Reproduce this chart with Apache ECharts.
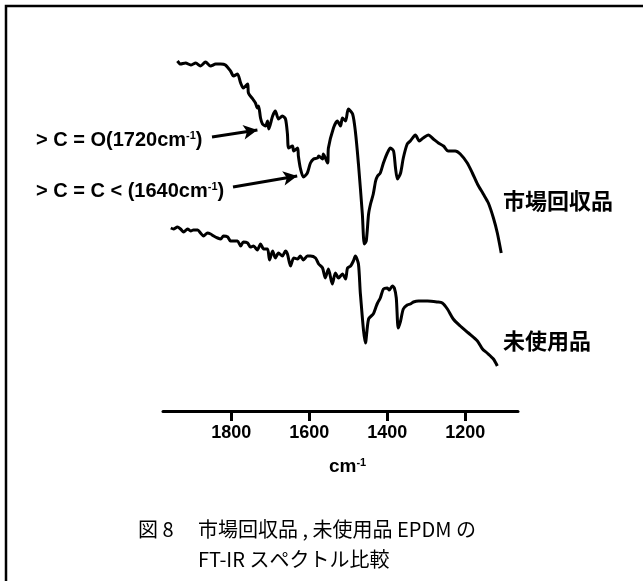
<!DOCTYPE html>
<html>
<head>
<meta charset="utf-8">
<script src="https://cdn.jsdelivr.net/npm/echarts@6/dist/echarts.min.js"></script>
<style>
  html, body { margin: 0; padding: 0; background: #fff; }
  #main { width: 643px; height: 581px; }
</style>
</head>
<body>
<div id="main"></div>
<script>
// wavenumber ticks (cm-1)
const tickValues = [1800, 1600, 1400, 1200];

// 市場回収品 spectrum (wavenumber, transmittance a.u.)
const recoveredWn = [1938, 1930, 1917, 1904, 1891, 1879, 1866, 1853, 1840, 1827, 1815, 1802, 1794, 1784, 1776, 1769, 1758, 1756, 1745, 1738, 1733, 1730, 1725, 1720, 1712, 1707, 1704, 1694, 1687, 1679, 1669, 1661, 1656, 1653, 1643, 1640, 1630, 1628, 1623, 1615, 1605, 1597, 1589, 1579, 1576, 1566, 1564, 1553, 1551, 1538, 1528, 1520, 1515, 1507, 1500, 1489, 1482, 1474, 1464, 1459, 1454, 1448, 1443, 1436, 1430, 1425, 1418, 1410, 1400, 1392, 1384, 1379, 1374, 1366, 1359, 1349, 1341, 1328, 1318, 1308, 1295, 1282, 1269, 1256, 1244, 1226, 1213, 1195, 1182, 1169, 1154, 1141, 1128, 1118, 1108];
const recoveredT = [350, 347, 348, 346, 348, 345, 349, 345, 347, 347, 346, 340, 335, 337, 328, 323, 327, 318, 312, 308, 303, 305, 293, 287, 285, 290, 282, 295, 300, 292, 295, 292, 277, 263, 265, 260, 263, 255, 243, 234, 238, 248, 252, 253, 255, 252, 257, 248, 263, 283, 290, 285, 293, 290, 302, 297, 280, 247, 197, 167, 170, 197, 207, 217, 230, 235, 238, 248, 258, 263, 260, 243, 232, 238, 253, 267, 270, 276, 270, 273, 276, 272, 268, 265, 260, 260, 257, 248, 238, 227, 217, 208, 193, 178, 158];

// 未使用品 spectrum
const unusedWn = [1955, 1948, 1938, 1930, 1922, 1912, 1904, 1897, 1886, 1879, 1871, 1861, 1853, 1845, 1835, 1827, 1820, 1809, 1802, 1794, 1784, 1776, 1769, 1758, 1751, 1743, 1733, 1725, 1717, 1707, 1702, 1694, 1687, 1679, 1669, 1661, 1656, 1648, 1640, 1630, 1623, 1615, 1605, 1597, 1584, 1576, 1566, 1559, 1551, 1541, 1533, 1525, 1515, 1507, 1502, 1494, 1487, 1482, 1474, 1469, 1456, 1448, 1436, 1430, 1425, 1418, 1410, 1400, 1395, 1387, 1382, 1377, 1372, 1366, 1359, 1349, 1341, 1333, 1320, 1297, 1272, 1259, 1246, 1231, 1213, 1192, 1169, 1156, 1144, 1128, 1118];
const unusedT = [183, 182, 184, 182, 179, 182, 180, 181, 181, 178, 175, 178, 177, 175, 173, 172, 175, 174, 170, 170, 170, 165, 169, 168, 164, 165, 161, 167, 162, 162, 151, 160, 153, 158, 155, 160, 157, 145, 153, 152, 155, 151, 155, 155, 153, 147, 143, 133, 142, 127, 138, 133, 137, 132, 143, 145, 150, 155, 147, 117, 68, 92, 97, 103, 108, 113, 122, 123, 121, 125, 123, 113, 83, 90, 102, 106, 107, 109, 110, 110, 109, 108, 102, 92, 85, 78, 70, 62, 58, 52, 45];

const zip = (xs, ys) => xs.map((x, i) => [x, ys[i]]);

const chart = echarts.init(document.getElementById('main'));

const latin = '"Liberation Sans", Arial, sans-serif';
const cjk = '"Noto Sans CJK JP", sans-serif';
const supStyle = { fontSize: 11, fontWeight: 'bold', verticalAlign: 'top', lineHeight: 12, fontFamily: latin };

const option = {
    animation: false,
    backgroundColor: '#fff',
    grid: { left: 163, right: 125, top: 41, bottom: 170 },
    xAxis: {
        type: 'value',
        inverse: true,
        min: 1065,
        max: 1975,
        axisLine: { lineStyle: { color: '#000', width: 3 } },
        axisTick: { show: true, length: 10, lineStyle: { color: '#000', width: 3 }, customValues: tickValues },
        axisLabel: {
            color: '#000', fontSize: 18, fontWeight: 'bold', fontFamily: latin, margin: 13,
            customValues: tickValues,
            formatter: v => String(v)
        },
        splitLine: { show: false }
    },
    yAxis: {
        type: 'value',
        min: 0,
        max: 370,
        show: false
    },
    series: [
        {
            name: '市場回収品',
            type: 'line',
            data: zip(recoveredWn, recoveredT),
            showSymbol: false,
            smooth: 0.25,
            lineStyle: { color: '#000', width: 3 },
            markLine: {
                silent: true,
                symbol: ['none', 'arrow'],
                symbolSize: [11, 14],
                label: { show: false },
                lineStyle: { color: '#000', width: 3, type: 'solid' },
                data: [
                    [{ x: 212, y: 137 }, { coord: [1733, 281] }],
                    [{ x: 233, y: 187 }, { coord: [1631, 235] }]
                ]
            }
        },
        {
            name: '未使用品',
            type: 'line',
            data: zip(unusedWn, unusedT),
            showSymbol: false,
            smooth: 0.25,
            lineStyle: { color: '#000', width: 3 }
        }
    ],
    graphic: [
        // frame
        {
            type: 'rect',
            shape: { x: 6, y: 6, width: 720, height: 720 },
            style: { fill: 'none', stroke: '#000', lineWidth: 2.5 }
        },
        {
            type: 'text', left: 36, top: 130,
            style: {
                text: '> C = O(1720cm{s|-1})',
                font: 'bold 20px ' + latin, fill: '#000',
                rich: { s: supStyle }
            }
        },
        {
            type: 'text', left: 36, top: 181,
            style: {
                text: '> C = C < (1640cm{s|-1})',
                font: 'bold 20px ' + latin, fill: '#000',
                rich: { s: supStyle }
            }
        },
        {
            type: 'text', left: 503, top: 190,
            style: { text: '市場回収品', font: 'bold 22px ' + cjk, fill: '#000' }
        },
        {
            type: 'text', left: 503, top: 330,
            style: { text: '未使用品', font: 'bold 22px ' + cjk, fill: '#000' }
        },
        {
            type: 'text', left: 329, top: 457,
            style: {
                text: 'cm{s|-1}',
                font: 'bold 19px ' + latin, fill: '#000',
                rich: { s: supStyle }
            }
        },
        {
            type: 'text', left: 138, top: 519,
            style: { text: '図 8', font: '20px ' + cjk, fill: '#000' }
        },
        {
            type: 'text', left: 198, top: 519,
            style: { text: '市場回収品 , 未使用品 EPDM の', font: '20px ' + cjk, fill: '#000' }
        },
        {
            type: 'text', left: 198, top: 549,
            style: { text: 'FT-IR スペクトル比較', font: '20px ' + cjk, fill: '#000' }
        }
    ]
};

chart.setOption(option);
</script>
</body>
</html>
